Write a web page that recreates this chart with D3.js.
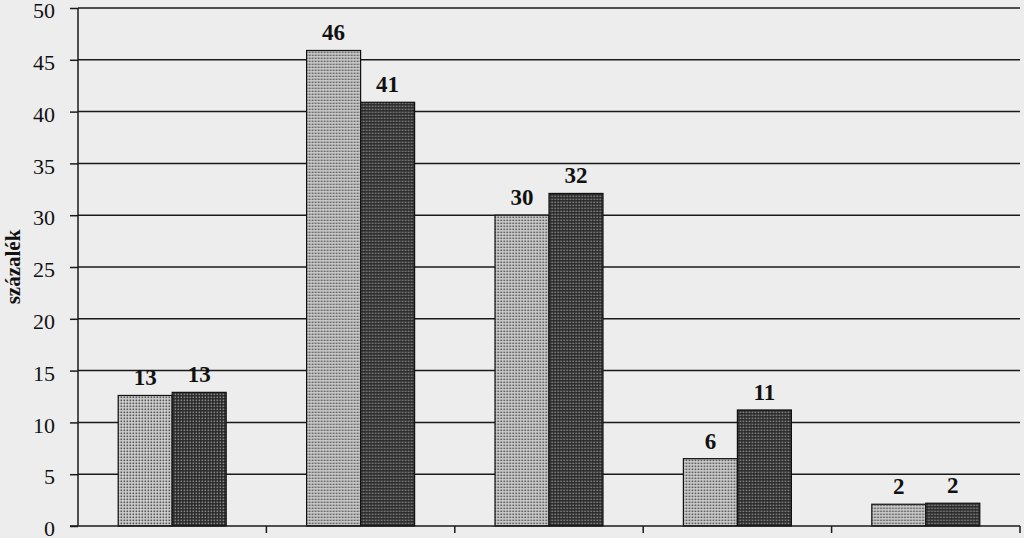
<!DOCTYPE html>
<html><head><meta charset="utf-8">
<script src="https://cdn.jsdelivr.net/npm/d3@7"></script>
<style>html,body{margin:0;padding:0;background:#ededee;}</style>
</head><body>
<script>
// ---- data ----
const categories = ["1", "2", "3", "4", "5"];
const seriesKeys = ["s1", "s2"];
const seriesA = [12.6, 45.9, 30.0, 6.5, 2.1];
const seriesB = [12.9, 40.9, 32.1, 11.2, 2.2];
const labelsA = ["13", "46", "30", "6", "2"];
const labelsB = ["13", "41", "32", "11", "2"];
const yTicks = [0, 5, 10, 15, 20, 25, 30, 35, 40, 45, 50];
const yTitle = "százalék";

const W = 1024, H = 538;
const svg = d3.select("body").append("svg").attr("width", W).attr("height", H);

const defs = svg.append("defs");
function makePattern(id, bg, dot) {
  const p = defs.append("pattern").attr("id", id).attr("patternUnits", "userSpaceOnUse")
    .attr("width", 3).attr("height", 3);
  p.append("rect").attr("width", 3).attr("height", 3).attr("fill", bg);
  p.append("rect").attr("x", 0.5).attr("y", 0.5).attr("width", 1.7).attr("height", 1.7).attr("fill", dot);
}
makePattern("pLight", "#d4d4d4", "#555555");
makePattern("pDark", "#232323", "#858585");

const x = d3.scaleBand().domain(categories).range([78, 1020]).paddingInner(0).paddingOuter(0);
const bw = x.bandwidth();
const pairW = 108;
const xs = d3.scaleBand().domain(seriesKeys).range([(bw - pairW) / 2, (bw + pairW) / 2]);
const y = d3.scaleLinear().domain([0, 50]).range([526, 8]);

// gridlines + y ticks
const yAxis = d3.axisLeft(y).tickValues(yTicks).tickSize(8).tickPadding(15).tickFormat(d3.format("d"));
const gy = svg.append("g").attr("transform", "translate(78,0)").call(yAxis);
gy.select(".domain").remove();
gy.selectAll(".tick line").attr("stroke", "#1a1a1a").attr("stroke-width", 1.5);
gy.selectAll(".tick text").attr("font-family", "'Liberation Serif', 'Times New Roman', serif")
  .attr("font-size", 22).attr("fill", "#111").attr("dy", "0.44em");

svg.append("g").selectAll("line").data(yTicks.filter(t => t > 0)).join("line")
  .attr("x1", 78).attr("x2", 1020).attr("y1", d => y(d)).attr("y2", d => y(d))
  .attr("stroke", "#1a1a1a").attr("stroke-width", 1.5);

// bars
const data = categories.map((c, i) => ({ c, vals: [
  { k: "s1", v: seriesA[i], lab: labelsA[i] },
  { k: "s2", v: seriesB[i], lab: labelsB[i] }] }));

const groups = svg.append("g").selectAll("g").data(data).join("g")
  .attr("transform", d => `translate(${x(d.c)},0)`);

groups.selectAll("rect").data(d => d.vals).join("rect")
  .attr("x", d => xs(d.k)).attr("width", xs.bandwidth())
  .attr("y", d => y(d.v)).attr("height", d => y(0) - y(d.v))
  .attr("fill", d => d.k === "s1" ? "url(#pLight)" : "url(#pDark)")
  .attr("stroke", "#111").attr("stroke-width", 1.2);

groups.selectAll("text").data(d => d.vals).join("text")
  .attr("x", d => xs(d.k) + xs.bandwidth() / 2)
  .attr("y", d => y(d.v) - 10)
  .attr("text-anchor", "middle")
  .attr("font-family", "'Liberation Serif', 'Times New Roman', serif")
  .attr("font-weight", "bold").attr("font-size", 23).attr("fill", "#111")
  .text(d => d.lab);

// x axis
const xAxis = d3.axisBottom(x).tickValues([]).tickSize(0);
const gx = svg.append("g").attr("transform", `translate(0,${y(0)})`).call(xAxis);
gx.select(".domain").attr("stroke", "#1a1a1a").attr("stroke-width", 1.5).attr("d", "M70,0H1020");
const boundaries = categories.slice(1).map(c => x(c)).concat([x.range()[1]]);
gx.selectAll(".bt").data(boundaries).join("line").attr("class", "bt")
  .attr("x1", d => d).attr("x2", d => d).attr("y1", 0).attr("y2", 7)
  .attr("stroke", "#1a1a1a").attr("stroke-width", 1.5);

// y axis line
svg.append("line").attr("x1", 78).attr("x2", 78).attr("y1", y(50)).attr("y2", y(0))
  .attr("stroke", "#1a1a1a").attr("stroke-width", 1.5);

// y title
svg.append("text").attr("transform", `translate(13,${y(25)}) rotate(-90)`)
  .attr("text-anchor", "middle").attr("dominant-baseline", "central")
  .attr("font-family", "'Liberation Serif', 'Times New Roman', serif")
  .attr("font-weight", "bold").attr("font-size", 21).attr("fill", "#111")
  .text(yTitle);
</script>
</body></html>
